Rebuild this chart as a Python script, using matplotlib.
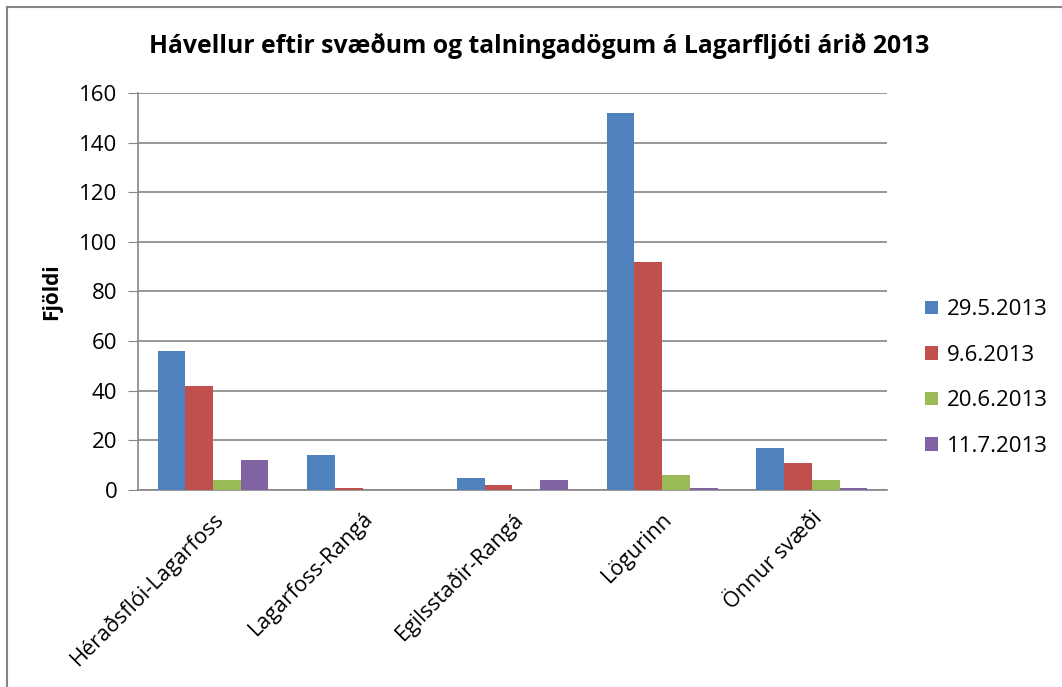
import matplotlib.pyplot as plt
import numpy as np

svaedi = ['Héraðsflói-Lagarfoss', 'Lagarfoss-Rangá', 'Egilsstaðir-Rangá',
          'Lögurinn', 'Önnur svæði']
dagsetningar = ['29.5.2013', '9.6.2013', '20.6.2013', '11.7.2013']
d_29_5 = [56, 14, 5, 152, 17]
d_9_6 = [42, 1, 2, 92, 11]
d_20_6 = [4, 0, 0, 6, 4]
d_11_7 = [12, 0, 4, 1, 1]
litir = ['#4F81BD', '#C0504D', '#9BBB59', '#8064A2']

plt.rcParams['font.family'] = ['Open Sans', 'DejaVu Sans']

fig = plt.figure(figsize=(10.62, 6.87), dpi=100)
ax = fig.add_axes([0.130, 0.2867, 0.705, 0.578])

x = np.arange(len(svaedi))
w = 0.185
series = [d_29_5, d_9_6, d_20_6, d_11_7]
for i, (vals, lbl, c) in enumerate(zip(series, dagsetningar, litir)):
    ax.bar(x + (i - 1.5) * w, vals, width=w, color=c, label=lbl, zorder=3)

ax.set_xlim(-0.5, len(svaedi) - 0.5)
ax.set_ylim(0, 160)
ax.set_yticks(range(0, 161, 20))
ax.tick_params(axis='y', labelsize=16, length=7, color='#868686', pad=8)
ax.tick_params(axis='x', length=0, labelsize=15.5, pad=13)
ax.set_xticks(x)
ax.set_xticklabels(svaedi, rotation=45, ha='right', rotation_mode='anchor')
ax.grid(axis='y', color='#868686', linewidth=1.2, zorder=0)
for s in ['top', 'right']:
    ax.spines[s].set_visible(False)
for s in ['left', 'bottom']:
    ax.spines[s].set_color('#868686')
    ax.spines[s].set_linewidth(1.2)

ax.set_ylabel('Fjöldi', fontsize=15, fontweight='bold', labelpad=12)
fig.text(0.508, 0.933, 'Hávellur eftir svæðum og talningadögum á Lagarfljóti árið 2013',
         ha='center', va='center', fontsize=17.8, fontweight='bold')

leg = ax.legend(loc='center left', bbox_to_anchor=(1.025, 0.282), frameon=False,
                fontsize=16, handlelength=0.55, handleheight=0.55,
                handletextpad=0.4, labelspacing=1.1)

# kantur utan um myndina
fig.add_artist(plt.Line2D([0.0066, 0.0066], [0, 0.99], transform=fig.transFigure,
                          color='#868686', linewidth=1.5))
fig.add_artist(plt.Line2D([0.0066, 1], [0.99, 0.99], transform=fig.transFigure,
                          color='#868686', linewidth=1.5))

fig.savefig('out.png', dpi=100)
